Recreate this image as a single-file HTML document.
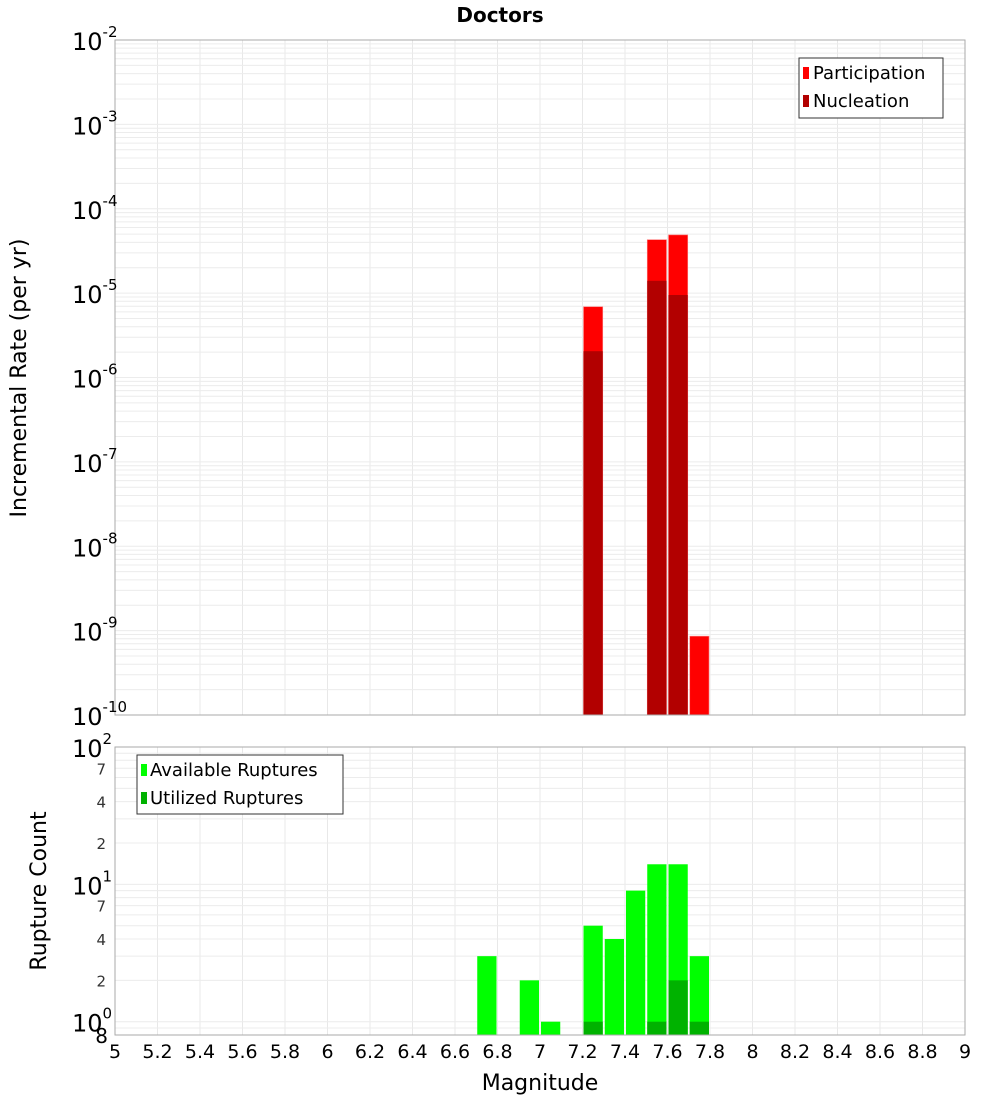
<!DOCTYPE html>
<html><head><meta charset="utf-8"><style>
body{margin:0;background:#fff;font-family:"DejaVu Sans","Liberation Sans",sans-serif}
</style></head><body>
<svg id="c" width="1000" height="1100" xmlns="http://www.w3.org/2000/svg" font-family="DejaVu Sans, Liberation Sans, sans-serif"></svg>
<script>
const magBins=[7.25,7.55,7.65,7.75];
const participation=[6.9e-6,4.3e-5,4.9e-5,8.6e-10];
const nucleation=[2.05e-6,1.4e-5,9.5e-6,0];
const countBins=[6.75,6.95,7.05,7.25,7.35,7.45,7.55,7.65,7.75];
const available=[3,2,1,5,4,9,14,14,3];
const utilBins=[7.25,7.55,7.65,7.75];
const utilized=[1,1,2,1];
const xTicks=["5","5.2","5.4","5.6","5.8","6","6.2","6.4","6.6","6.8","7","7.2","7.4","7.6","7.8","8","8.2","8.4","8.6","8.8","9"];
const topExps=[-2,-3,-4,-5,-6,-7,-8,-9,-10];

const svg=document.getElementById('c');const NS='http://www.w3.org/2000/svg';
function mk(t,a,p,name){const e=document.createElementNS(NS,t);for(const k in a)e.setAttribute(k,a[k]);


(p||svg).appendChild(e);return e;}
const X0=115,X1=965;
const x=m=>X0+(m-5)/4*(X1-X0);
const T0=40,T1=715;
const yTop=v=>T0+(-2-Math.log10(v))/8*(T1-T0);
const B0=747,B1=1035,BL=Math.log10(0.8);
const yBot=v=>B0+(2-Math.log10(v))/(2-BL)*(B1-B0);
const bw=x(5.1)-x(5)-2;

// grids
for(let i=0;i<=40;i++){const xx=x(5+i*0.1);if(i%2==0){
mk('line',{x1:xx,x2:xx,y1:T0,y2:T1,stroke:'#e8e8e8'},null,'top-grid-x');
mk('line',{x1:xx,x2:xx,y1:B0,y2:B1,stroke:'#e8e8e8'},null,'bottom-grid-x');}}
for(let e=-10;e<-2;e++)for(let k=1;k<10;k++){const yy=yTop(k*Math.pow(10,e));
mk('line',{x1:X0,x2:X1,y1:yy,y2:yy,stroke:'#ececec'},null,'top-grid-y');}
for(let e=-1;e<2;e++)for(let k=1;k<10;k++){const v=k*Math.pow(10,e);if(v<0.8)continue;const yy=yBot(v);
mk('line',{x1:X0,x2:X1,y1:yy,y2:yy,stroke:'#ececec'},null,'bottom-grid-y');}

// top bars
magBins.forEach((m,i)=>{
mk('rect',{x:x(m)-bw/2,y:yTop(participation[i]),width:bw,height:T1-yTop(participation[i]),fill:'#ff0000',stroke:'#ff8080','stroke-width':0.6},null,'participation-bar');
if(nucleation[i]>0)mk('rect',{x:x(m)-bw/2,y:yTop(nucleation[i]),width:bw,height:T1-yTop(nucleation[i]),fill:'#b20000'},null,'nucleation-bar');});
// bottom bars
countBins.forEach((m,i)=>{
mk('rect',{x:x(m)-bw/2,y:yBot(available[i]),width:bw,height:B1-yBot(available[i]),fill:'#00ff00'},null,'available-bar');});
utilBins.forEach((m,i)=>{
mk('rect',{x:x(m)-bw/2,y:yBot(utilized[i]),width:bw,height:B1-yBot(utilized[i]),fill:'#00b200'},null,'utilized-bar');});

mk('rect',{x:X0,y:T0,width:X1-X0,height:T1-T0,fill:'none',stroke:'#aaa'},null,'top-plot-frame');
mk('rect',{x:X0,y:B0,width:X1-X0,height:B1-B0,fill:'none',stroke:'#aaa'},null,'bottom-plot-frame');

function txt(s,a,name){const t=mk('text',a,null,name);t.textContent=s;return t;}
txt('Doctors',{x:500,y:22,'text-anchor':'middle','font-size':20,'font-weight':'bold'},'chart-title');
topExps.forEach(e=>{const yy=yTop(Math.pow(10,e));
const t=txt('10',{x:72,y:yy+10,'font-size':24},'top-y-tick');
const s=mk('tspan',{dy:-13,'font-size':15},t,'tick-exponent');s.textContent=String(e);});
[[100,'10','2'],[10,'10','1'],[1,'10','0']].forEach(([v,b,e])=>{const yy=yBot(v);
const t=txt(b,{x:72,y:yy+10,'font-size':24},'bottom-y-tick');
const s=mk('tspan',{dy:-13,'font-size':15},t,'tick-exponent');s.textContent=e;});
[[7,'7'],[4,'4'],[2,'2'],[70,'7'],[40,'4'],[20,'2']].forEach(([v,l])=>{
txt(l,{x:106,y:yBot(v)+6,'font-size':15,'text-anchor':'end',fill:'#333'},'bottom-minor-tick');});
txt('8',{x:108,y:B1+8,'font-size':20,'text-anchor':'end'},'bottom-minor-tick');
xTicks.forEach(l=>{txt(l,{x:x(+l),y:1058,'font-size':19,'text-anchor':'middle'},'x-tick');});
txt('Magnitude',{x:540,y:1090,'font-size':22,'text-anchor':'middle'},'x-axis-title');
txt('Incremental Rate (per yr)',{x:0,y:0,'font-size':22,'text-anchor':'middle',transform:'translate(26,378) rotate(-90)'},'top-y-axis-title');
txt('Rupture Count',{x:0,y:0,'font-size':22,'text-anchor':'middle',transform:'translate(46,891) rotate(-90)'},'bottom-y-axis-title');

// legends
mk('rect',{x:799,y:58,width:144,height:60,fill:'#fff',stroke:'#333'},null,'top-legend');
mk('rect',{x:803,y:67,width:6,height:12,fill:'#ff0000'},null,'legend-swatch-participation');
txt('Participation',{x:813,y:79,'font-size':18},'legend-participation');
mk('rect',{x:803,y:95,width:6,height:12,fill:'#b20000'},null,'legend-swatch-nucleation');
txt('Nucleation',{x:813,y:107,'font-size':18},'legend-nucleation');
mk('rect',{x:137,y:755,width:206,height:59,fill:'#fff',stroke:'#333'},null,'bottom-legend');
mk('rect',{x:141,y:764,width:6,height:12,fill:'#00ff00'},null,'legend-swatch-available');
txt('Available Ruptures',{x:150,y:776,'font-size':18},'legend-available');
mk('rect',{x:141,y:792,width:6,height:12,fill:'#00b200'},null,'legend-swatch-utilized');
txt('Utilized Ruptures',{x:150,y:804,'font-size':18},'legend-utilized');
</script>
</body></html>
